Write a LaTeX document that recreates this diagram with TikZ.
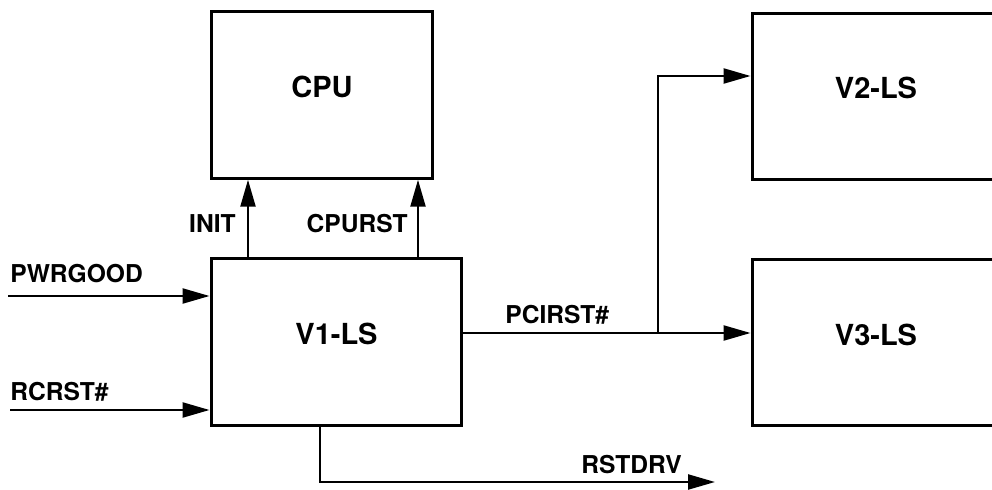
\documentclass[tikz,border=0pt]{standalone}
\usepackage{fontspec}
\setmainfont{TeX Gyre Heros}
\usetikzlibrary{positioning,arrows.meta}

\begin{document}
\begin{tikzpicture}[
  x=0.02cm, y=-0.02cm,
  >={Triangle[length=0.54cm,width=0.3cm]},
  unit/.style={draw, line width=1.7pt, minimum width=#1, minimum height=3.33cm,
               inner sep=0pt, text height=0.4cm, text depth=0.3cm,
               font=\fontsize{16.5}{18}\selectfont\bfseries},
  unit/.default=4.44cm,
  sig/.style={->, line width=1.3pt},
  siglabel/.style={inner sep=0pt, font=\fontsize{14}{16}\selectfont\bfseries},
]
\clip (0,0) rectangle (992,490);

% -- blocks --
\node[unit] (cpu) at (322,95) {CPU};
\node[unit=5.02cm] (v1) at (336.5,342) {V1-LS};
\node[unit=4.96cm] (v2) at (876,96.5) {V2-LS};
\node[unit=4.96cm] (v3) at (876,342.5) {V3-LS};

% -- free ends and taps --
\coordinate (pwrin) at (8,296);
\coordinate (rcin) at (10,410);
\coordinate (initx) at (248,0);
\coordinate (cpux) at (418,0);
\coordinate (pcix) at (462,333);
\coordinate (split) at (658,333);
\coordinate (v2in) at (658,76);
\coordinate (rstx) at (320,482);
\coordinate (rstout) at (715,482);

% -- inputs --
\draw[sig] (pwrin) -- (pwrin -| v1.west);
\draw[sig] (rcin) -- (rcin -| v1.west);

% -- to CPU --
\draw[sig] (v1.north -| initx) -- (cpu.south -| initx);
\draw[sig] (v1.north -| cpux) -- (cpu.south -| cpux);

% -- PCI reset --
\draw[sig] (pcix) -- (pcix -| v3.west);
\draw[sig] (split) -- (v2in) -- (v2in -| v2.west);

% -- ISA reset --
\draw[sig] (v1.south -| rstx) -- (rstx) -- (rstout);

% -- labels --
\node[siglabel, anchor=base west] (lpwr) at (10,282) {PWRGOOD};
\node[siglabel, anchor=base west] (lrc) at (10,400) {RCRST\#};
\node[siglabel, anchor=base east] (linit) at (236,232) {INIT};
\node[siglabel, anchor=base east] (lcpu) at (408,232) {CPURST};
\node[siglabel, anchor=base west] (lpci) at (505,323) {PCIRST\#};
\node[siglabel, anchor=base east] (lrst) at (682,473) {RSTDRV};
\end{tikzpicture}
\end{document}
